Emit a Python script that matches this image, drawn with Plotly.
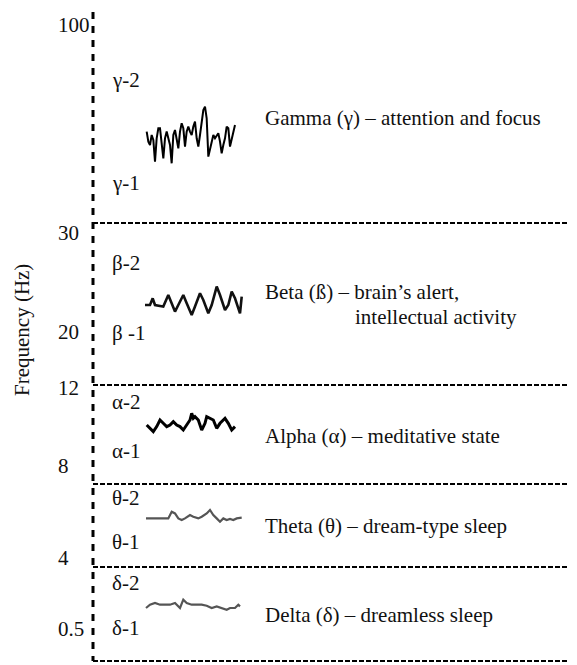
import numpy as np
import plotly.graph_objects as go

# ---------------- data ----------------
freq_tick_labels = ["100", "30", "20", "12", "8", "4", "0.5"]
band_sub_labels = ["γ-2", "γ-1", "β-2", "β -1", "α-2", "α-1", "θ-2", "θ-1", "δ-2", "δ-1"]
band_descriptions = [
    "Gamma (γ) – attention and focus",
    "Beta (ß) – brain’s alert,",
    "intellectual activity",
    "Alpha (α) – meditative state",
    "Theta (θ) – dream-type sleep",
    "Delta (δ) – dreamless sleep",
]
axis_title = "Frequency (Hz)"

# EEG traces: sample time (px offset) and amplitude (px, up positive)
gamma_amp = [6.7, -3.3, -6.7, 3.3, -1.7, -23.3, 0, 10, 10, -6.7, -20, 0, 6.7, 0, -6.7, -25, 3.3, 8.3,
             0, -10, 6.7, 15, 10, -8.3, 6.7, 11.7, 6.7, 3.3, 11.7, 16.7, 0, -8.3, 3.3, 16.7, 28.3, 31.7,
             20, -18.3, -10, -1.7, 3.3, 0, 3.3, 5, -3.3, -15, -6.7, 0, 11.7, 10, -8.3, 0, 6.7, 13.3]
gamma_t = [(20 + 5 * i) / 3 for i in range(len(gamma_amp))]

beta_t = [5, 10, 12.7, 15, 20, 23.3, 28.3, 31.7, 35, 38.3, 43.3, 46.7, 51.7, 55, 60, 63.3, 68.3,
          71.7, 76.7, 80, 85, 88.3, 91.7, 95, 100, 101.7]
beta_amp = [-1.7, -1.7, 5, -1.7, -2.7, -3.3, 8.3, 0, -8.3, -1.7, 8.3, 0, -11.7, -3.3, 10, 3.3, -10,
            -1.7, 16.7, 8.3, -6.7, -1.7, 11.7, 5, -10, 6.7]

alpha_t = [6.7, 10, 13.3, 16.7, 20, 23.3, 26.7, 30, 33.3, 36.7, 40, 43.3, 46.7, 50, 51.7, 53.3, 55,
           58.3, 61.7, 65, 66.7, 70, 73.3, 76.7, 80, 83.3, 85, 88.3, 91.7, 95]
alpha_amp = [-1.7, -5, -8.3, -3.3, 3.3, 0, -3.3, -1.7, 1.7, -1.7, -3.3, -6.7, -1.7, 3.3, 10, 5, 6.7,
             3.3, -6.7, 0, 6.7, 5, 3.3, -5, 0, 3.3, 5, 0, -6.7, -3.3]

theta_t = [6, 13.3, 20, 28.3, 31.7, 35, 38.3, 41.7, 45, 50, 53.3, 58.3, 61.7, 66.7, 70, 73.3, 76.7,
           80, 83.3, 86.7, 90, 93.3, 96.7, 101.7]
theta_amp = [-0.7, -0.7, -1.3, -0.7, 6, 4.3, -0.7, -2.3, -0.7, 2.7, 1, -0.7, 1, 4.3, 7.7, 2.7, -0.7,
             -4, -0.7, -2.3, -1.3, -2.3, -0.7, 0]

delta_t = [6, 10, 15, 20, 25, 30, 35, 38.3, 40, 43.3, 46.7, 51.7, 56.7, 61.7, 66.7, 71.7, 76.7, 81.7,
           86.7, 90, 95, 98.3, 100]
delta_amp = [-2.3, 1, 2.7, 1, 1, 1, 2.7, -0.7, -2.3, 6, 2.7, 1, 1, 1, 0, -2.3, -0.7, -2.3, -4, -2.3,
             -2.3, 1, -0.7]

# ---------------- layout (page pixel frame) ----------------
W, H = 577, 665
PAGE_OFF = 8  # default body margin of the html page
AXIS_X = 93
AXIS_TOP, AXIS_BOTTOM = 12, 661
boundaries_y = [223, 385, 484, 567, 661]
tick_y = [25, 233, 332, 388, 466, 558, 629]
tick_x = 56
sub_label_x = 110
sub_label_y = [80, 183, 263, 333, 402, 451, 498, 542, 583, 628]
desc_pos = [(263, 118), (263, 292), (353, 317), (263, 436), (263, 526), (263, 615)]
wave_x0 = 140
waves = [
    (gamma_t, gamma_amp, 138.3, "#000000", 2.0),
    (beta_t, beta_amp, 303.3, "#111111", 2.6),
    (alpha_t, alpha_amp, 423.3, "#000000", 3.0),
    (theta_t, theta_amp, 517.7, "#555555", 2.2),
    (delta_t, delta_amp, 605.7, "#555555", 2.2),
]

FONT = "Liberation Serif, Times New Roman, serif"
FS = 21

fig = go.Figure()

for t, amp, yc, col, lw in waves:
    fig.add_trace(go.Scatter(
        x=[wave_x0 + v for v in t],
        y=[yc - a for a in amp],
        mode="lines",
        line=dict(color=col, width=lw),
        hoverinfo="skip",
        showlegend=False,
    ))

shapes = [dict(type="line", xref="x", yref="y", x0=AXIS_X, x1=AXIS_X, y0=AXIS_TOP, y1=AXIS_BOTTOM,
               line=dict(color="black", width=3, dash="7px,7px"))]
for by in boundaries_y:
    shapes.append(dict(type="line", xref="x", yref="y", x0=AXIS_X, x1=W + PAGE_OFF, y0=by, y1=by,
                       line=dict(color="black", width=1.8, dash="5px,2px")))

annotations = []
for lab, y in zip(freq_tick_labels, tick_y):
    annotations.append(dict(x=tick_x, y=y, text=lab, showarrow=False, xanchor="left",
                            yanchor="middle", font=dict(family=FONT, size=FS, color="#111")))
for lab, y in zip(band_sub_labels, sub_label_y):
    annotations.append(dict(x=sub_label_x, y=y, text=lab, showarrow=False, xanchor="left",
                            yanchor="middle", font=dict(family=FONT, size=FS, color="#111")))
for txt, (x, y) in zip(band_descriptions, desc_pos):
    annotations.append(dict(x=x, y=y, text=txt, showarrow=False, xanchor="left",
                            yanchor="middle", font=dict(family=FONT, size=FS, color="#111")))
annotations.append(dict(x=22, y=330, text=axis_title, showarrow=False, textangle=-90,
                        xanchor="center", yanchor="middle",
                        font=dict(family=FONT, size=FS, color="#111")))
for a in annotations:
    a["xref"] = "x"
    a["yref"] = "y"

fig.update_layout(
    width=W, height=H,
    margin=dict(l=0, r=0, t=0, b=0),
    paper_bgcolor="white", plot_bgcolor="white",
    xaxis=dict(range=[PAGE_OFF, W + PAGE_OFF], visible=False, fixedrange=True),
    yaxis=dict(range=[H + PAGE_OFF, PAGE_OFF], visible=False, fixedrange=True),
    shapes=shapes,
    annotations=annotations,
)

fig.write_html("out.html")
